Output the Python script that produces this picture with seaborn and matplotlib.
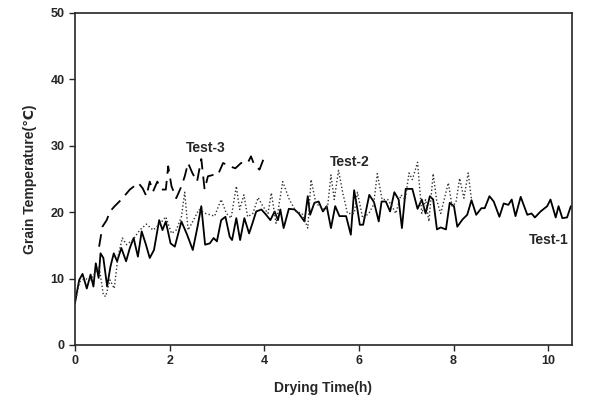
import numpy as np
import pandas as pd
import matplotlib
matplotlib.use("Agg")
import matplotlib.pyplot as plt
import seaborn as sns

# Test-1 (solid)
t1_time = [0.00, 0.05, 0.09, 0.16, 0.25, 0.33, 0.39, 0.44, 0.50, 0.54, 0.60, 0.68, 0.75, 0.82, 0.89,
           0.98, 1.08, 1.16, 1.24, 1.33, 1.41, 1.50, 1.58, 1.67, 1.78, 1.85, 1.92, 2.02, 2.11, 2.25,
           2.37, 2.49, 2.59, 2.67, 2.75, 2.85, 2.93, 3.00, 3.09, 3.18, 3.27, 3.32, 3.41, 3.49, 3.58,
           3.68, 3.75, 3.83, 3.94, 4.04, 4.13, 4.22, 4.29, 4.34, 4.41, 4.52, 4.64, 4.73, 4.85, 4.92,
           4.97, 5.06, 5.15, 5.24, 5.32, 5.41, 5.50, 5.59, 5.73, 5.83, 5.90, 5.97, 6.02, 6.09, 6.22,
           6.32, 6.42, 6.48, 6.57, 6.66, 6.75, 6.84, 6.91, 6.99, 7.13, 7.24, 7.33, 7.41, 7.50, 7.57,
           7.65, 7.73, 7.84, 7.92, 8.01, 8.08, 8.19, 8.29, 8.38, 8.48, 8.59, 8.66, 8.76, 8.85, 8.97,
           9.06, 9.16, 9.23, 9.31, 9.42, 9.56, 9.65, 9.72, 9.84, 9.98, 10.05, 10.16, 10.22, 10.30,
           10.40, 10.48]
t1_temp = [6.3, 8.3, 9.8, 10.7, 8.5, 10.6, 8.8, 12.3, 10.1, 13.8, 13.1, 8.8, 11.8, 13.8, 12.6,
           14.6, 12.6, 14.6, 16.1, 13.3, 17.1, 15.1, 13.1, 14.3, 18.8, 17.3, 18.6, 15.3, 14.8, 18.6,
           16.6, 14.3, 17.8, 20.9, 15.1, 15.3, 16.1, 15.6, 18.8, 19.3, 16.3, 15.8, 19.1, 15.8, 19.1,
           16.8, 18.3, 20.1, 20.4, 19.6, 18.8, 20.1, 18.8, 20.4, 17.6, 20.5, 20.4, 19.8, 18.6, 22.4,
           19.6, 21.4, 21.6, 20.1, 20.9, 17.6, 20.9, 19.4, 19.4, 16.6, 23.3, 20.4, 18.1, 18.1, 22.6,
           21.5, 18.6, 21.6, 21.6, 20.1, 23.0, 21.9, 17.6, 23.5, 23.5, 20.5, 21.9, 19.8, 22.4, 21.9,
           17.4, 17.7, 17.4, 21.4, 20.9, 17.8, 18.9, 19.6, 21.8, 19.6, 20.6, 20.6, 22.4, 21.6, 19.3,
           21.3, 21.1, 21.9, 19.4, 22.3, 19.6, 19.8, 19.2, 20.1, 20.9, 21.9, 19.2, 20.9, 19.1,
           19.2, 20.9]

# Test-2 (dotted)
t2_time = [0.00, 0.10, 0.21, 0.32, 0.42, 0.51, 0.60, 0.65, 0.74, 0.83, 0.91, 1.00, 1.09, 1.22, 1.37,
           1.51, 1.65, 1.79, 1.92, 2.04, 2.14, 2.25, 2.32, 2.39, 2.49, 2.62, 2.76, 2.95, 3.09, 3.20,
           3.30, 3.41, 3.48, 3.57, 3.65, 3.76, 3.87, 3.97, 4.08, 4.15, 4.25, 4.39, 4.53, 4.67, 4.80,
           4.92, 4.99, 5.09, 5.24, 5.34, 5.41, 5.48, 5.57, 5.66, 5.76, 5.90, 5.97, 6.08, 6.21, 6.31,
           6.39, 6.49, 6.61, 6.70, 6.78, 6.89, 6.98, 7.06, 7.13, 7.24, 7.33, 7.41, 7.48, 7.57, 7.64,
           7.73, 7.89, 7.97, 8.05, 8.13, 8.22, 8.31, 8.38]
t2_temp = [6.3, 9.5, 10.0, 9.8, 10.8, 11.8, 7.5, 7.3, 9.8, 8.5, 13.3, 16.1, 15.1, 15.8, 17.3,
           18.2, 17.3, 18.2, 19.3, 16.8, 17.3, 19.3, 23.0, 17.3, 18.6, 20.4, 19.8, 19.4, 21.9, 19.8,
           19.1, 23.9, 20.4, 22.6, 19.3, 19.8, 22.2, 20.9, 19.8, 22.9, 18.3, 24.6, 21.9, 20.1, 19.8,
           17.6, 24.9, 21.4, 20.4, 20.9, 25.6, 21.9, 26.3, 22.9, 19.8, 19.8, 23.0, 19.1, 19.8, 21.1,
           25.8, 21.9, 21.9, 20.9, 19.8, 22.6, 21.9, 25.9, 24.9, 27.5, 19.8, 21.9, 18.6, 25.8, 21.9,
           19.8, 24.4, 20.9, 21.4, 25.1, 22.1, 25.9, 21.9]

# Test-3 (dashed)
t3_time = [0.51, 0.58, 0.67, 0.74, 0.84, 0.98, 1.16, 1.34, 1.43, 1.51, 1.58, 1.65, 1.74, 1.83, 1.92,
           1.97, 2.04, 2.14, 2.25, 2.32, 2.39, 2.48, 2.58, 2.67, 2.74, 2.81, 2.92, 3.02, 3.13, 3.27,
           3.39, 3.51, 3.65, 3.72, 3.79, 3.90, 3.98]
t3_temp = [14.8, 17.8, 18.8, 20.1, 20.9, 21.9, 23.4, 24.4, 23.6, 22.4, 24.6, 23.1, 24.6, 23.4, 23.4,
           26.9, 23.9, 22.1, 23.9, 25.4, 27.4, 25.9, 24.6, 28.0, 23.4, 25.4, 25.6, 25.6, 27.4, 26.9,
           26.6, 27.4, 27.4, 28.4, 27.1, 26.4, 27.9]

labels = ["Test-1", "Test-2", "Test-3"]
label_pos = [(10.02, 15.8), (5.80, 27.6), (2.76, 29.7)]

df = pd.concat([
    pd.DataFrame({"time": t1_time, "temp": t1_temp, "test": "Test-1"}),
    pd.DataFrame({"time": t2_time, "temp": t2_temp, "test": "Test-2"}),
    pd.DataFrame({"time": t3_time, "temp": t3_temp, "test": "Test-3"}),
])

sns.set_style("ticks")
plt.rcParams['font.family'] = ['Liberation Sans', 'DejaVu Sans']
plt.rcParams['font.weight'] = 'bold'

fig = plt.figure(figsize=(5.95, 4.03), dpi=100)
ax = fig.add_axes([0.126, 0.144, 0.835, 0.824])

sns.lineplot(data=df, x="time", y="temp", style="test", color="black",
             dashes={"Test-1": "", "Test-2": (1, 1.6), "Test-3": (7, 4)},
             linewidth=1.3, legend=False, sort=False, estimator=None, ax=ax)

# thinner, lighter dotted line for Test-2
for ln in ax.lines:
    if ln.get_linestyle() not in ("-", "None") and len(ln.get_xdata()) == len(t2_time):
        ln.set_linewidth(1.0)
        ln.set_color("#333333")

for lab, (x, y) in zip(labels, label_pos):
    ax.text(x, y, lab, ha="center", va="center", fontsize=10, fontweight="bold")

ax.set_xlim(0, 10.5)
ax.set_ylim(0, 50)
ax.set_xticks([0, 2, 4, 6, 8, 10])
ax.set_yticks([0, 10, 20, 30, 40, 50])
ax.tick_params(labelsize=9, length=4, width=1)
for lbl in ax.get_xticklabels() + ax.get_yticklabels():
    lbl.set_fontweight("bold")
for sp in ax.spines.values():
    sp.set_linewidth(1.2)
ax.set_xlabel("Drying Time(h)", fontsize=10, fontweight="bold", labelpad=10)
ax.set_ylabel("Grain Temperature(\u2103)", fontsize=10, fontweight="bold", labelpad=10)

fig.savefig("out.png", dpi=100)
